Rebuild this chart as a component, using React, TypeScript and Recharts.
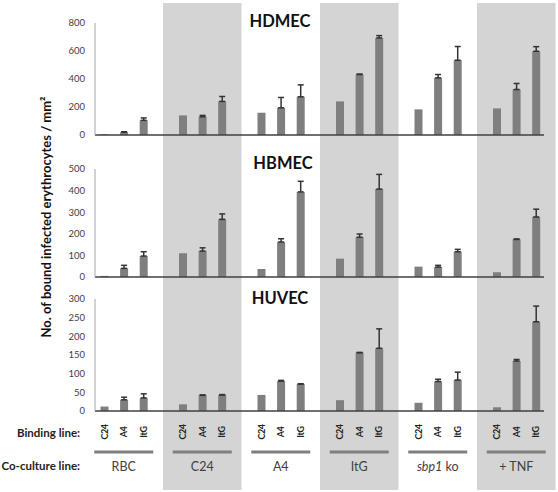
import React from 'react';
import { BarChart, Bar, XAxis, YAxis, ErrorBar, ReferenceArea } from 'recharts';

// co-culture lines (groups) and binding lines (bars inside each group)
const coCultureLines = ['RBC', 'C24', 'A4', 'ItG', 'sbp1 ko', '+ TNF'];
const bindingLines = ['C24', 'A4', 'ItG'];
const shadedLines = ['C24', 'ItG', '+ TNF'];

// HDMEC
const hdmecC24 = [5, 140, 159, 240, 183, 190];
const hdmecA4 = [20, 130, 194, 432, 408, 325];
const hdmecItG = [105, 240, 273, 693, 534, 598];
const hdmecC24Err = [null, null, null, null, null, null];
const hdmecA4Err = [3, 10, 74, 3, 24, 43];
const hdmecItGErr = [17, 35, 85, 17, 98, 33];
const hdmecTicks = [0, 200, 400, 600, 800];

// HBMEC
const hbmecC24 = [5, 110, 37, 85, 48, 22];
const hbmecA4 = [40, 120, 162, 184, 46, 174];
const hbmecItG = [97, 267, 394, 407, 117, 278];
const hbmecC24Err = [null, null, null, null, null, null];
const hbmecA4Err = [14, 15, 15, 15, 8, 2];
const hbmecItGErr = [20, 25, 49, 68, 11, 36];
const hbmecTicks = [0, 100, 200, 300, 400, 500];

// HUVEC
const huvecC24 = [12, 18, 43, 29, 22, 10];
const huvecA4 = [30, 42, 80, 156, 79, 134];
const huvecItG = [35, 43, 72, 168, 83, 239];
const huvecC24Err = [null, null, null, null, null, null];
const huvecA4Err = [7, 1, 2, 1, 6, 4];
const huvecItGErr = [11, 1, 1, 52, 21, 42];
const huvecTicks = [0, 50, 100, 150, 200, 250, 300];

const FONT = 'Lato, "Open Sans", sans-serif';
const W = 558;
const H = 492;
const BAR_SIZE = 8;
const BAR_GAP = 11.6;
const PAD = { left: -10.5, right: -11.5 };
const MARGIN_RIGHT = 14;
const AXIS_W = 95;

const toErr = (v: number | null) => (v == null ? null : [0, v]);

const buildRows = (c24: number[], a4: number[], itg: number[], c24e: (number | null)[], a4e: (number | null)[], itge: (number | null)[]) =>
  coCultureLines.map((g, i) => ({
    group: g,
    C24: c24[i],
    A4: a4[i],
    ItG: itg[i],
    C24Err: toErr(c24e[i]),
    A4Err: toErr(a4e[i]),
    ItGErr: toErr(itge[i]),
  }));

const hdmecRows = buildRows(hdmecC24, hdmecA4, hdmecItG, hdmecC24Err, hdmecA4Err, hdmecItGErr);
const hbmecRows = buildRows(hbmecC24, hbmecA4, hbmecItG, hbmecC24Err, hbmecA4Err, hbmecItGErr);
const huvecRows = buildRows(huvecC24, huvecA4, huvecItG, huvecC24Err, huvecA4Err, huvecItGErr);

const BottomTick = (props: any) => {
  const { x, y, payload, index } = props;
  const step = BAR_SIZE + BAR_GAP;
  const name: string = payload.value;
  return (
    <g fontFamily={FONT}>
      {index === 0 && (
        <>
          <text x={80} y={y + 21} textAnchor="end" dominantBaseline="central" fontSize={11.5} fontWeight="bold" fill="#222">
            Binding line:
          </text>
          <text x={80} y={y + 54} textAnchor="end" dominantBaseline="central" fontSize={11.5} fontWeight="bold" fill="#222">
            Co-culture line:
          </text>
        </>
      )}
      {bindingLines.map((b, i) => {
        const bx = x + (i - 1) * step;
        return (
          <text key={b} x={bx} y={y + 21} transform={`rotate(-90 ${bx} ${y + 21})`} textAnchor="middle" dominantBaseline="central" fontSize={9} fontWeight="bold" fill="#222" letterSpacing={-0.4}>
            {b}
          </text>
        );
      })}
      <line x1={x - 29.5} x2={x + 29.5} y1={y + 41} y2={y + 41} stroke="#7f7f7f" strokeWidth={3} />
      <text x={x} y={y + 55} textAnchor="middle" dominantBaseline="central" fontSize={12.5} fill="#404040">
        {name === 'sbp1 ko' ? (
          <>
            <tspan fontStyle="italic">sbp1</tspan> ko
          </>
        ) : (
          name
        )}
      </text>
    </g>
  );
};

type PanelProps = {
  rows: any[];
  ticks: number[];
  top: number;
  height: number;
  marginTop: number;
  xAxisHeight: number;
  bottomLabels?: boolean;
};

const Panel = ({ rows, ticks, top, height, marginTop, xAxisHeight, bottomLabels }: PanelProps) => (
  <div style={{ position: 'absolute', left: 0, top }}>
    <BarChart
      width={W}
      height={height}
      data={rows}
      margin={{ top: marginTop, right: MARGIN_RIGHT, left: 0, bottom: 0 }}
      barSize={BAR_SIZE}
      barGap={BAR_GAP}
    >
      <XAxis
        dataKey="group"
        padding={PAD}
        height={xAxisHeight}
        axisLine={{ stroke: '#404040', strokeWidth: 1.5 }}
        tickLine={false}
        tickSize={0}
        tickMargin={0}
        interval={0}
        tick={bottomLabels ? <BottomTick /> : false}
      />
      <YAxis
        width={AXIS_W}
        domain={[ticks[0], ticks[ticks.length - 1]]}
        ticks={ticks}
        interval={0}
        axisLine={{ stroke: '#a6a6a6' }}
        tickLine={false}
        tickSize={6}
        tickMargin={4}
        tick={{ fontSize: 9.5, fill: '#404040', fontFamily: FONT }}
      />
      {bindingLines.map((b) => (
        <Bar key={b} dataKey={b} fill="#7f7f7f" isAnimationActive={false}>
          <ErrorBar dataKey={`${b}Err`} width={3} stroke="#333" strokeWidth={1.5} direction="y" />
        </Bar>
      ))}
    </BarChart>
  </div>
);

const Title = ({ text, x, y }: { text: string; x: number; y: number }) => (
  <div
    style={{
      position: 'absolute',
      left: x,
      top: y,
      transform: 'translate(-50%, -50%)',
      fontFamily: FONT,
      fontWeight: 'bold',
      fontSize: 16.5,
      color: '#111',
      whiteSpace: 'nowrap',
    }}
  >
    {text}
  </div>
);

export default function App() {
  return (
    <div style={{ position: 'relative', width: W, height: H, background: '#fff', overflow: 'hidden' }}>
      <style>{'body{margin:0}'}</style>
      <div style={{ position: 'absolute', left: 0, top: 0 }}>
        <BarChart width={W} height={H} data={hdmecRows} margin={{ top: 3, right: MARGIN_RIGHT, left: AXIS_W, bottom: 2 }}>
          <XAxis dataKey="group" hide padding={PAD} />
          <YAxis hide domain={[0, 1000]} />
          {shadedLines.map((g) => (
            <ReferenceArea key={g} x1={g} x2={g} fill="#d4d4d4" fillOpacity={1} stroke="none" ifOverflow="visible" />
          ))}
          <Bar dataKey="C24" fill="none" isAnimationActive={false} />
        </BarChart>
      </div>
      <Panel rows={hdmecRows} ticks={hdmecTicks} top={0} height={140} marginTop={23} xAxisHeight={5} />
      <Panel rows={hbmecRows} ticks={hbmecTicks} top={145} height={137} marginTop={24} xAxisHeight={5} />
      <Panel rows={huvecRows} ticks={huvecTicks} top={280} height={212} marginTop={19} xAxisHeight={81} bottomLabels />
      <Title text="HDMEC" x={280} y={20.5} />
      <Title text="HBMEC" x={283} y={163} />
      <Title text="HUVEC" x={280} y={297.5} />
      <div
        style={{
          position: 'absolute',
          left: 45.5,
          top: 216.5,
          transform: 'translate(-50%, -50%) rotate(-90deg)',
          fontFamily: FONT,
          fontWeight: 'bold',
          fontSize: 13,
          color: '#111',
          whiteSpace: 'nowrap',
        }}
      >
        No. of bound infected erythrocytes / mm²
      </div>
    </div>
  );
}
